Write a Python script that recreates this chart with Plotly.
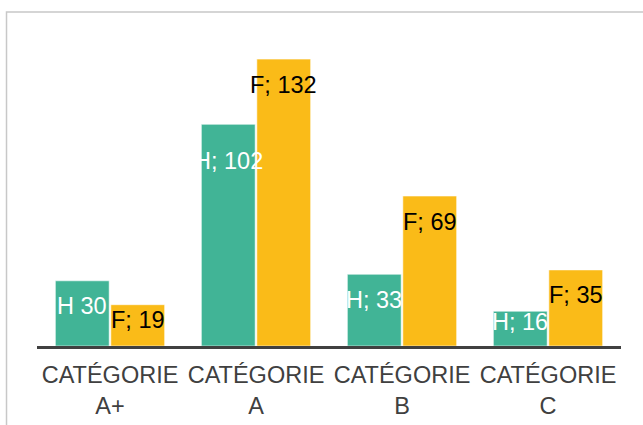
import plotly.graph_objects as go

categories = ["CATÉGORIE<br>A+", "CATÉGORIE<br>A", "CATÉGORIE<br>B", "CATÉGORIE<br>C"]
hommes = [30, 102, 33, 16]
femmes = [19, 132, 69, 35]
h_labels = ["H 30", "H; 102", "H; 33", "H; 16"]
f_labels = ["F; 19", "F; 132", "F; 69", "F; 35"]

# label placement (pixels below bar top), style only
h_label_drop = [25, 37, 26, 11]
f_label_drop = [15.5, 26, 26, 25.5]

GREEN = "#41B496"
YELLOW = "#FABB18"
FONT = "Liberation Sans, Arial, sans-serif"

fig = go.Figure()
fig.add_trace(go.Bar(x=categories, y=hommes, name="H", marker=dict(color=GREEN, line=dict(color="rgba(255,255,255,0.55)", width=1))))
fig.add_trace(go.Bar(x=categories, y=femmes, name="F", marker=dict(color=YELLOW, line=dict(color="rgba(255,255,255,0.55)", width=1))))

annotations = []
for cat, v, lab, d in zip(categories, hommes, h_labels, h_label_drop):
    annotations.append(dict(x=cat, y=v, xref="x", yref="y", text=lab, showarrow=False,
                            xshift=-27.7, yshift=-d, yanchor="middle",
                            font=dict(family=FONT, size=23.5, color="white")))
for cat, v, lab, d in zip(categories, femmes, f_labels, f_label_drop):
    annotations.append(dict(x=cat, y=v, xref="x", yref="y", text=lab, showarrow=False,
                            xshift=27.7, yshift=-d, yanchor="middle",
                            font=dict(family=FONT, size=23.5, color="black")))

fig.update_layout(
    width=643, height=425,
    margin=dict(l=37, r=22, t=20, b=79),
    paper_bgcolor="white", plot_bgcolor="white",
    barmode="group", bargap=0.24, bargroupgap=0.03,
    showlegend=False,
    font=dict(family=FONT),
    annotations=annotations,
    shapes=[dict(type="rect", xref="paper", yref="paper", x0=-0.0522, x1=1.3, y0=-0.6, y1=1.0245,
                 line=dict(color="#C8C8C8", width=1.5), fillcolor="rgba(0,0,0,0)", layer="below")],
    xaxis=dict(showline=True, linecolor="#404040", linewidth=3, showgrid=False, ticks="",
               tickangle=0, ticklabelstandoff=6, automargin=False,
               tickfont=dict(family=FONT, size=23.5, color="#404040")),
    yaxis=dict(range=[0, 150], visible=False, showgrid=False, zeroline=False, automargin=False),
)

fig.write_html("out.html", config={"displayModeBar": False},
               post_script="document.body.style.margin='0';")
